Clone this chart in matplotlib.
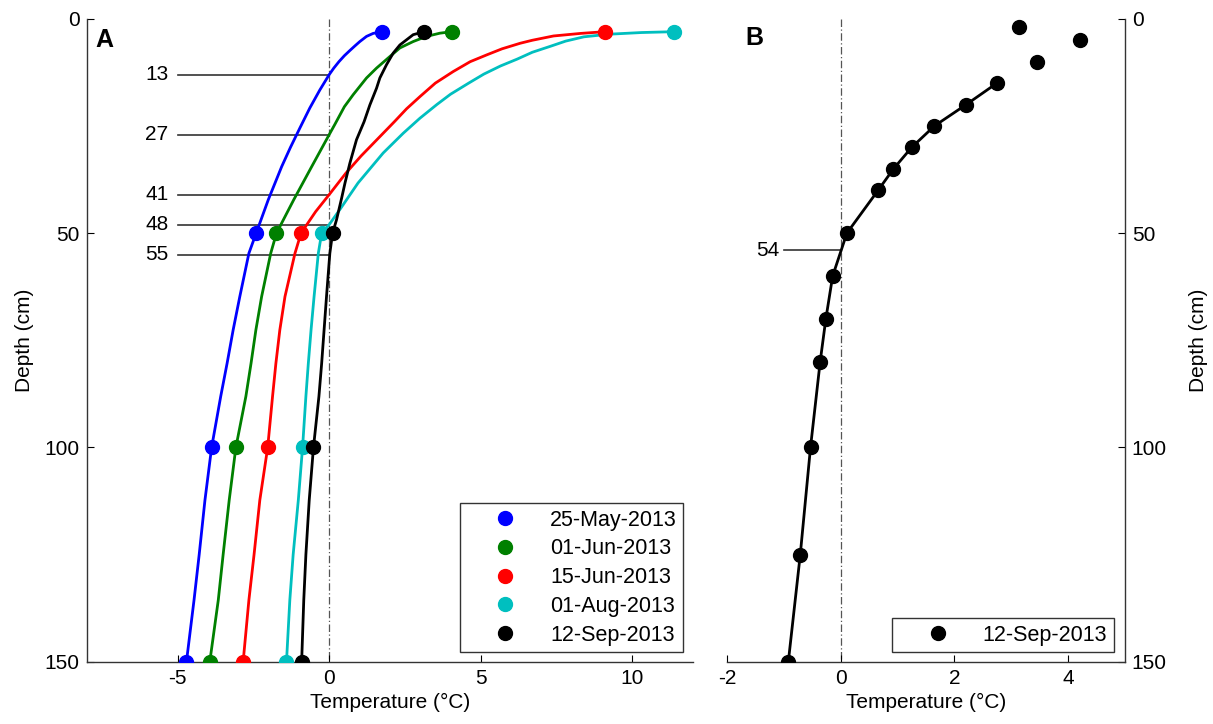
import matplotlib
matplotlib.use("Agg")
import matplotlib.pyplot as plt
from matplotlib.lines import Line2D

plt.rcParams['font.family'] = ['Liberation Sans', 'DejaVu Sans']
plt.rcParams['axes.unicode_minus'] = False

# measured profiles (panel A), depth in cm
meas_depth = [3, 50, 100, 150]
meas_may25 = [1.74, -2.41, -3.88, -4.71]
meas_jun01 = [4.04, -1.74, -3.08, -3.94]
meas_jun15 = [9.10, -0.93, -2.03, -2.84]
meas_aug01 = [11.38, -0.25, -0.88, -1.41]
meas_sep12 = [3.13, 0.11, -0.52, -0.91]

# fitted curves
fit_may25_depth = [3, 3.4, 4.1, 5.3, 6.3, 7.4, 8.6, 10, 11.5, 13, 16.6, 20.8, 25.5, 30, 34.5, 42.2, 50,
                   54.7, 64.8, 72.6, 80.4, 88.1, 100, 112.3, 125, 135.6, 150]
fit_may25_temp = [1.74, 1.45, 1.23, 1.01, 0.85, 0.68, 0.50, 0.32, 0.15, 0.0, -0.31, -0.64, -0.97, -1.28, -1.57, -2.01, -2.41,
                  -2.65, -2.95, -3.17, -3.37, -3.58, -3.88, -4.10, -4.29, -4.46, -4.71]

fit_jun01_depth = [3, 3.35, 4.1, 5.3, 6.8, 8.8, 11.5, 13.8, 17.7, 20.5, 24.7, 27, 34.5, 42.2, 50,
                   54.7, 64.8, 72.6, 80.4, 88.1, 100, 112.3, 125, 135.6, 150]
fit_jun01_temp = [4.04, 3.65, 3.21, 2.77, 2.33, 2.0, 1.56, 1.23, 0.79, 0.50, 0.18, 0.0, -0.58, -1.17, -1.74,
                  -1.93, -2.23, -2.42, -2.58, -2.75, -3.08, -3.30, -3.50, -3.66, -3.94]

fit_jun15_depth = [3, 3.4, 4, 5, 5.7, 7, 8.4, 10, 12.3, 15, 18.1, 21, 24, 28, 32, 36, 41, 45, 50,
                   54.7, 64.8, 72.6, 80.4, 88.1, 100, 112.3, 125, 135.6, 150]
fit_jun15_temp = [9.10, 8.3, 7.4, 6.7, 6.3, 5.7, 5.2, 4.65, 4.09, 3.5, 3.0, 2.55, 2.15, 1.6, 1.05, 0.55, 0.0, -0.45, -0.93,
                  -1.13, -1.46, -1.63, -1.76, -1.87, -2.03, -2.29, -2.48, -2.65, -2.84]

fit_aug01_depth = [3, 3.2, 3.6, 4.2, 5.2, 6.4, 7.8, 9.4, 11, 12.9, 15, 17.6, 20, 23.2, 26.7, 31.3, 38.3, 44.2, 48, 50,
                   54.7, 64.8, 72.6, 80.4, 88.1, 100, 112.3, 125, 135.6, 150]
fit_aug01_temp = [11.38, 10.3, 9.2, 8.4, 7.8, 7.3, 6.7, 6.2, 5.65, 5.1, 4.6, 4.0, 3.55, 2.99, 2.44, 1.78, 0.95, 0.38, 0.0, -0.25,
                  -0.36, -0.50, -0.60, -0.69, -0.77, -0.88, -1.02, -1.19, -1.30, -1.41]

fit_sep12_depth = [3, 3.7, 4.9, 6.1, 8.0, 10.7, 13.8, 16.2, 20.1, 24.0, 28.2, 33.7, 38.3, 41.8, 46.9, 50,
                   54.7, 64.8, 72.6, 80.4, 88.1, 100, 112.3, 125, 135.6, 150]
fit_sep12_temp = [3.13, 2.77, 2.55, 2.33, 2.11, 1.89, 1.67, 1.56, 1.34, 1.15, 0.90, 0.68, 0.52, 0.41, 0.24, 0.11,
                  0.02, -0.09, -0.17, -0.25, -0.34, -0.52, -0.66, -0.77, -0.84, -0.91]

dates = ['25-May-2013', '01-Jun-2013', '15-Jun-2013', '01-Aug-2013', '12-Sep-2013']
colors = ['#0000ff', '#008000', '#ff0000', '#00bfbf', '#000000']

# zero-crossing depths marked in panel A
zero_depths_a = [13, 27, 41, 48, 55]

# panel B: 12-Sep-2013 full profile
b_depth = [2, 5, 10, 15, 20, 25, 30, 35, 40, 50, 60, 70, 80, 100, 125, 150]
b_temp = [3.13, 4.21, 3.46, 2.75, 2.21, 1.65, 1.25, 0.93, 0.66, 0.11, -0.14, -0.26, -0.36, -0.53, -0.71, -0.92]
b_fit_start = 3  # line drawn from 15 cm downward
zero_depth_b = 54

fig = plt.figure(figsize=(12.13, 7.24), dpi=100)
axA = fig.add_axes([0.0715, 0.086, 0.4998, 0.888])
axB = fig.add_axes([0.5993, 0.086, 0.328, 0.888])

fits = [(fit_may25_depth, fit_may25_temp), (fit_jun01_depth, fit_jun01_temp),
        (fit_jun15_depth, fit_jun15_temp), (fit_aug01_depth, fit_aug01_temp),
        (fit_sep12_depth, fit_sep12_temp)]
meas = [meas_may25, meas_jun01, meas_jun15, meas_aug01, meas_sep12]

dash_style = dict(color='#555555', lw=0.9, linestyle=(0, (6, 2, 1, 2)), zorder=1)
leg_style = dict(loc='lower right', fontsize=15.5, frameon=True, fancybox=False, edgecolor='#333333',
                 framealpha=1, handlelength=3.6, handletextpad=0.3, labelspacing=0.36,
                 borderpad=0.3, borderaxespad=0)

# --- panel A ---
axA.plot([0, 0], [0, 150], **dash_style)
for d in zero_depths_a:
    axA.plot([-5, 0], [d, d], color='#333333', lw=1.2, zorder=1)
    axA.text(-5.3, d, str(d), ha='right', va='center', fontsize=15)
for (fd, ft), m, c in zip(fits, meas, colors):
    axA.plot(ft, fd, color=c, lw=2.0, zorder=2)
    axA.plot(m, meas_depth, 'o', color=c, ms=10, zorder=3)

axA.set_xlim(-8, 12)
axA.set_ylim(150, 0)
axA.set_xticks([-5, 0, 5, 10])
axA.set_yticks([0, 50, 100, 150])
axA.spines['top'].set_visible(False)
axA.spines['right'].set_visible(False)
axA.tick_params(direction='in', length=5, labelsize=15, pad=5)
axA.set_xlabel('Temperature (°C)', fontsize=15, labelpad=4)
axA.set_ylabel('Depth (cm)', fontsize=15, labelpad=8)
axA.text(0.015, 0.967, 'A', transform=axA.transAxes, fontsize=18, fontweight='bold', va='center')

handles = [Line2D([], [], linestyle='none', marker='o', ms=10, color=c) for c in colors]
legA = axA.legend(handles, dates, bbox_to_anchor=(0.984, 0.015), **leg_style)
legA.get_frame().set_linewidth(1.0)

# --- panel B ---
axB.plot([0, 0], [0, 150], **dash_style)
axB.plot([-1, 0], [zero_depth_b, zero_depth_b], color='#333333', lw=1.2, zorder=1)
axB.text(-1.08, zero_depth_b, str(zero_depth_b), ha='right', va='center', fontsize=15)
axB.plot(b_temp[b_fit_start:], b_depth[b_fit_start:], color='k', lw=2.0, zorder=2)
axB.plot(b_temp, b_depth, 'o', color='k', ms=10, zorder=3)

axB.set_xlim(-2, 5)
axB.set_ylim(150, 0)
axB.set_xticks([-2, 0, 2, 4])
axB.set_yticks([0, 50, 100, 150])
axB.yaxis.tick_right()
axB.yaxis.set_label_position('right')
axB.spines['top'].set_visible(False)
axB.spines['left'].set_visible(False)
axB.tick_params(direction='in', length=5, labelsize=15, pad=5)
axB.set_xlabel('Temperature (°C)', fontsize=15, labelpad=4)
axB.set_ylabel('Depth (cm)', fontsize=15, labelpad=16)
axB.text(0.047, 0.97, 'B', transform=axB.transAxes, fontsize=18, fontweight='bold', va='center')

legB = axB.legend([Line2D([], [], linestyle='none', marker='o', ms=10, color='k')], ['12-Sep-2013'],
                  bbox_to_anchor=(0.972, 0.015), **leg_style)
legB.get_frame().set_linewidth(1.0)

for ax in (axA, axB):
    for s in ax.spines.values():
        s.set_linewidth(1.0)
        s.set_color('#333333')

fig.savefig('out.png', dpi=100)
